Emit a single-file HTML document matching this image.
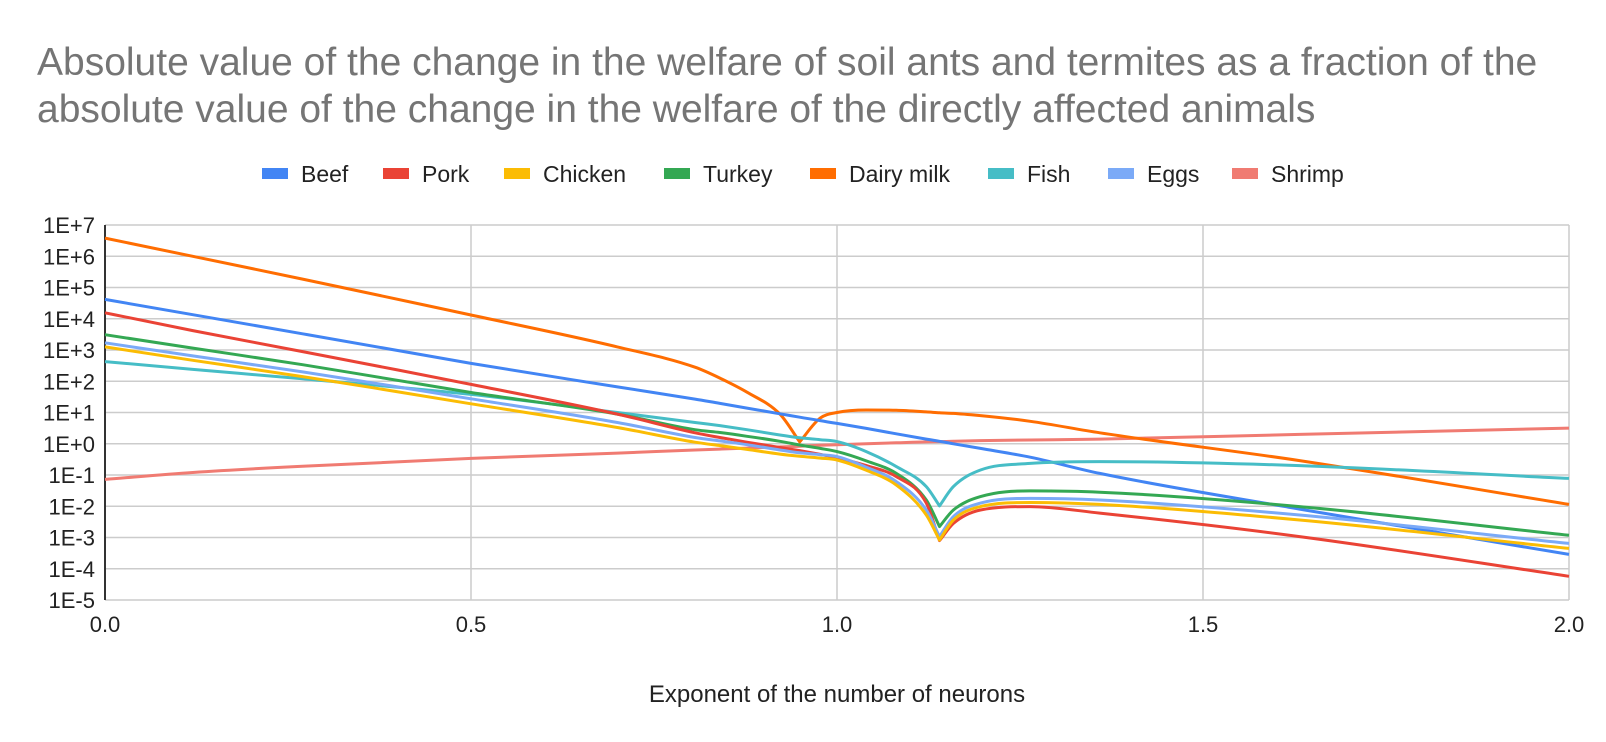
<!DOCTYPE html>
<html><head><meta charset="utf-8"><style>
body{margin:0;background:#fff;font-family:"Liberation Sans",Arial,sans-serif;}
svg{display:block}
</style></head><body>
<svg id="chart" width="1606" height="742">
<text x="37" y="75" font-size="39" fill="#757575">Absolute value of the change in the welfare of soil ants and termites as a fraction of the</text>
<text x="37" y="122" font-size="39" fill="#757575">absolute value of the change in the welfare of the directly affected animals</text>
<g id="grid"></g>
<g id="series"></g>
<g id="legend"></g>
<text x="837" y="702" font-size="24" fill="#222" text-anchor="middle">Exponent of the number of neurons</text>
</svg>
<script>
const xs = [0, 0.12, 0.27, 0.5, 0.7, 0.806, 0.84, 0.877, 0.922, 0.949, 0.977, 1.0, 1.04, 1.081, 1.122, 1.14, 1.159, 1.196, 1.264, 1.359, 1.632, 2.0];
const seriesNames = ["Beef","Pork","Chicken","Turkey","Dairy milk","Fish","Eggs","Shrimp"];
const beef = [4.62,4.13,3.52,2.57,1.82,1.43,1.29,1.14,0.96,0.85,0.74,0.65,0.49,0.32,0.15,0.08,0.0,-0.15,-0.43,-0.95,-2.09,-3.54];
const pork = [4.19,3.62,2.95,1.90,0.95,0.35,0.20,0.05,-0.12,-0.22,-0.34,-0.45,-0.7,-1.05,-1.9,-3.1,-2.55,-2.12,-2.01,-2.22,-2.97,-4.24];
const chicken = [3.10,2.67,2.15,1.28,0.52,0.05,-0.06,-0.18,-0.33,-0.40,-0.46,-0.52,-0.85,-1.32,-2.28,-3.08,-2.44,-2.01,-1.88,-1.94,-2.44,-3.35];
const turkey = [3.49,3.06,2.53,1.64,0.95,0.45,0.36,0.24,0.08,-0.04,-0.15,-0.25,-0.55,-0.95,-1.80,-2.65,-2.12,-1.69,-1.51,-1.55,-2.01,-2.93];
const dairy = [6.58,6.0,5.27,4.12,3.1,2.45,2.1,1.65,0.95,0.06,0.82,1.0,1.08,1.07,1.02,0.99,0.97,0.9,0.72,0.35,-0.54,-1.94];
const fish = [2.63,2.38,2.08,1.58,1.0,0.68,0.58,0.45,0.28,0.19,0.13,0.07,-0.25,-0.73,-1.37,-1.99,-1.37,-0.84,-0.63,-0.57,-0.70,-1.11];
const eggs = [3.23,2.81,2.30,1.44,0.68,0.20,0.09,-0.03,-0.2,-0.29,-0.35,-0.41,-0.75,-1.21,-2.12,-2.97,-2.33,-1.9,-1.75,-1.80,-2.28,-3.19];
const shrimp = [-1.14,-0.92,-0.72,-0.47,-0.3,-0.2,-0.17,-0.14,-0.1,-0.08,-0.05,-0.03,0.0,0.03,0.06,0.07,0.08,0.1,0.12,0.15,0.30,0.50];
const yTickLabels = ["1E+7","1E+6","1E+5","1E+4","1E+3","1E+2","1E+1","1E+0","1E-1","1E-2","1E-3","1E-4","1E-5"];
const yTickExps = [7,6,5,4,3,2,1,0,-1,-2,-3,-4,-5];
const xTickLabels = ["0.0","0.5","1.0","1.5","2.0"];
const xTickVals = [0,0.5,1,1.5,2];

const NS="http://www.w3.org/2000/svg";
const L=105,R=1569,T=225,B=600;
function sx(v){return L+(v-0)/(2-0)*(R-L);}
function sy(e){return T+(7-e)/(12)*(B-T);}
function mk(tag,attrs,parent){const el=document.createElementNS(NS,tag);for(const k in attrs)el.setAttribute(k,attrs[k]);parent.appendChild(el);return el;}
const grid=document.getElementById('grid');
yTickExps.forEach((e,i)=>{
  const ln=mk('line',{x1:L,x2:R,y1:sy(e),y2:sy(e),stroke:'#cccccc','stroke-width':1.5},grid);
  
  
  const t=mk('text',{x:L-10,y:sy(e)+8,'font-size':22,'text-anchor':'end',fill:'#222'},grid);
  t.textContent=yTickLabels[i];
  
  
});
xTickVals.forEach((v,i)=>{
  if(v>0){const ln=mk('line',{x1:sx(v),x2:sx(v),y1:T,y2:B,stroke:'#cccccc','stroke-width':1.5},grid);
  
  }
  const t=mk('text',{x:sx(v),y:B+32,'font-size':22,'text-anchor':'middle',fill:'#222'},grid);
  t.textContent=xTickLabels[i];
  
  
});
const ax=mk('line',{x1:L,x2:L,y1:T,y2:B,stroke:'#333','stroke-width':2},grid);



function pathFor(vals){
  const P=vals.map((v,j)=>[sx(xs[j]),sy(v)]);
  const n=P.length, sec=[];
  for(let j=0;j<n-1;j++)sec.push((P[j+1][1]-P[j][1])/(P[j+1][0]-P[j][0]));
  const tin=[],tout=[];
  for(let j=0;j<n;j++){
    if(j===0){tin[j]=tout[j]=sec[0];continue;}
    if(j===n-1){tin[j]=tout[j]=sec[n-2];continue;}
    const a=sec[j-1],b=sec[j];
    if(a>0&&b<0){tin[j]=a;tout[j]=b;continue;}
    let m=(a*b<=0)?0:(a+b)/2;
    if(a*b>0){const lim=3*Math.min(Math.abs(a),Math.abs(b));if(Math.abs(m)>lim)m=Math.sign(m)*lim;}
    tin[j]=tout[j]=m;
  }
  let d='M'+P[0][0].toFixed(1)+','+P[0][1].toFixed(1);
  for(let j=0;j<n-1;j++){
    const h=(P[j+1][0]-P[j][0])/3;
    d+=' C'+(P[j][0]+h).toFixed(1)+','+(P[j][1]+tout[j]*h).toFixed(1)+' '+(P[j+1][0]-h).toFixed(1)+','+(P[j+1][1]-tin[j+1]*h).toFixed(1)+' '+P[j+1][0].toFixed(1)+','+P[j+1][1].toFixed(1);
  }
  return d;
}
const colors=["#4285f4","#ea4335","#fbbc04","#34a853","#ff6d01","#46bdc6","#7baaf7","#f07b72"];
const data=[beef,pork,chicken,turkey,dairy,fish,eggs,shrimp];
const order=[7,4,0,5,3,1,6,2];
const sg=document.getElementById('series');
order.forEach(i=>{
  const p=mk('path',{d:pathFor(data[i]),fill:'none',stroke:colors[i],'stroke-width':3,'stroke-linejoin':'round'},sg);
  
  
});
const legendX=[262,383,504,664,810,988,1108,1232];
const lg=document.getElementById('legend');
seriesNames.forEach((n,i)=>{
  const r=mk('rect',{x:legendX[i],y:168,width:26,height:11,fill:colors[i]},lg);
  
  
  const t=mk('text',{x:legendX[i]+39,y:182,'font-size':23,fill:'#222'},lg);
  t.textContent=n;
  
  
});
</script>
</body></html>
